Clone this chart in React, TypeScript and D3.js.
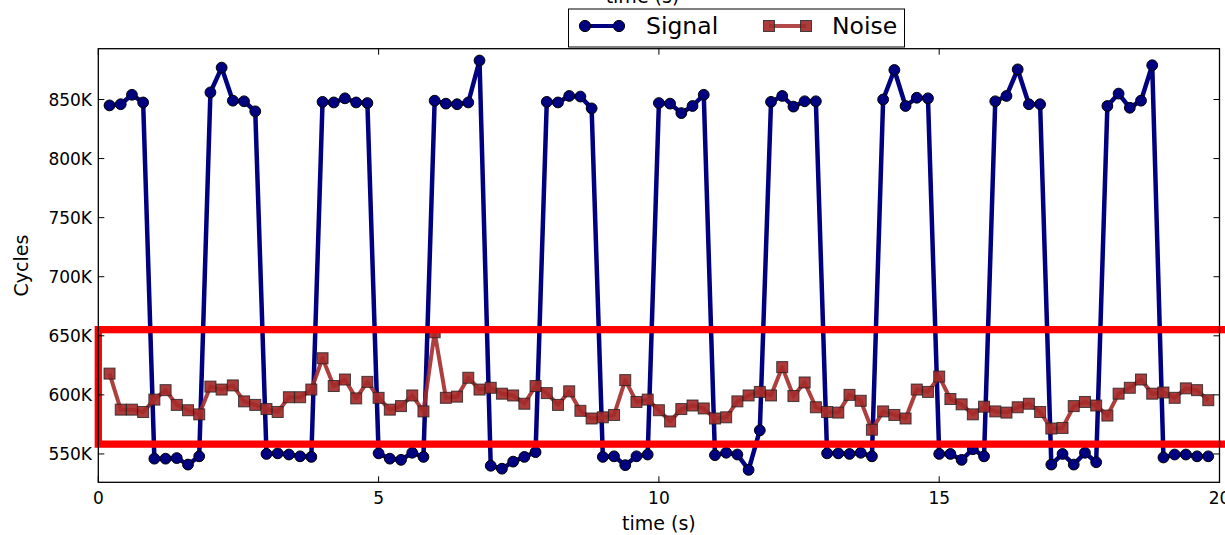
import React from "react";
import * as d3 from "d3";

// sample times: every 0.2 s from 0.2 to 19.8
const sampleIndex = d3.range(1, 100);
const times = sampleIndex.map((i) => +(i * 0.2).toFixed(1));

// Signal (K cycles)
const signal = [
  845, 846, 854, 847.5,
  546, 546, 546.5, 541, 548,
  856, 877, 849, 848.5, 840,
  550, 550.5, 549.5, 548, 547.5,
  848, 847.5, 851, 847.5, 847,
  550.5, 546, 545, 551, 547.5,
  849, 846.5, 846, 847.5, 883,
  540, 537.5, 543.5, 547.5, 551.5,
  848, 847.5, 853, 852.5, 842.5,
  547.5, 548, 540.5, 548, 549.5,
  847, 846.5, 838.5, 844.5, 854,
  549, 551, 549.5, 536.5, 570,
  848, 853, 844, 848.5, 848.5,
  550.5, 550.5, 550, 551, 548,
  850, 875, 844.5, 851.5, 851,
  550, 550, 545, 554, 548,
  848.5, 853, 875.5, 846, 846,
  541, 550, 541, 551, 543,
  844.5, 855, 843, 849, 879,
  547, 549.5, 549.5, 548, 548,
];

// Noise (K cycles)
const noise = [
  618, 587.5, 587.5, 585.5,
  596, 604, 591.5, 587, 583.5,
  607, 604.5, 608, 594.5, 591.5,
  588, 585.5, 598, 598, 604.5,
  631, 607.5, 613, 597, 611,
  597.5, 587.5, 590.5, 599.5, 586,
  653, 597.5, 598.5, 614.5, 604.5,
  606, 601, 599.5, 592.5, 607.5,
  601.5, 591.5, 603, 586.5, 580,
  581, 583, 612.5, 594, 596,
  587, 577.5, 588, 591, 588.5,
  580, 581, 594.5, 599.5, 602.5,
  599.5, 623.5, 599, 610.5, 589.5,
  585.5, 585, 600, 595, 570.5,
  586, 583, 580, 604.5, 602.5,
  615.5, 596.5, 592, 583.5, 590,
  586, 585, 589.5, 592.5, 585.5,
  571.5, 572, 590.5, 594, 591,
  582.5, 601, 606, 613, 601,
  602, 597.5, 605.5, 604, 595.5,
];

const xTicks = [0, 5, 10, 15, 20];
const yTicks = [550, 600, 650, 700, 750, 800, 850];
const seriesNames = ["Signal", "Noise"];
// highlighted band (K cycles)
const bandLow = 558.3;
const bandHigh = 655.2;
const bandEndTime = 22;

const W = 1225;
const H = 535;
const FONT = "DejaVu Sans, sans-serif";

export default function App() {
  const x = d3.scaleLinear().domain([0, 20]).range([98.3, 1219.5]);
  const y = d3.scaleLinear().domain([526, 893]).range([482.3, 48.7]);
  const left = x(0), right = x(20), top = y(893), bottom = y(526);

  const line = d3
    .line<number>()
    .x((_, i) => x(times[i]))
    .y((d) => y(d));

  const navy = "#000080";
  const brown = "#a52a2a";
  const tickLen = 6;

  return (
    <svg
      width={W}
      height={H}
      style={{ position: "absolute", left: 0, top: 0, background: "#fff" }}
      fontFamily={FONT}
    >
      <rect x={0} y={0} width={W} height={H} fill="#fff" />
      {/* Signal */}
      <path d={line(signal) || ""} fill="none" stroke={navy} strokeWidth={4.5} strokeLinejoin="round" />
      {signal.map((v, i) => (
        <circle key={"s" + i} cx={x(times[i])} cy={y(v)} r={5.4} fill={navy} stroke="#000" strokeWidth={1} />
      ))}
      {/* Noise */}
      <path d={line(noise) || ""} fill="none" stroke={brown} strokeOpacity={0.9} strokeWidth={4} strokeLinejoin="round" />
      {noise.map((v, i) => (
        <rect
          key={"n" + i}
          x={x(times[i]) - 5.5}
          y={y(v) - 5.5}
          width={11}
          height={11}
          fill={brown}
          fillOpacity={0.92}
          stroke="#222"
          strokeOpacity={0.8}
          strokeWidth={1}
        />
      ))}
      {/* red band */}
      <rect
        x={x(0)}
        y={y(bandHigh)}
        width={x(bandEndTime) - x(0)}
        height={y(bandLow) - y(bandHigh)}
        fill="none"
        stroke="#ff0000"
        strokeWidth={7.3}
      />
      {/* axes frame */}
      <rect x={left} y={top} width={right - left} height={bottom - top} fill="none" stroke="#000" strokeWidth={1.3} />
      {/* x ticks */}
      {xTicks.map((t) => (
        <g key={"xt" + t}>
          <line x1={x(t)} x2={x(t)} y1={bottom} y2={bottom - tickLen} stroke="#000" strokeWidth={1} />
          <line x1={x(t)} x2={x(t)} y1={top} y2={top + tickLen} stroke="#000" strokeWidth={1} />
          <text x={x(t)} y={504} fontSize={17} textAnchor="middle">{t}</text>
        </g>
      ))}
      {/* y ticks */}
      {yTicks.map((v) => (
        <g key={"yt" + v}>
          <line x1={left} x2={left + tickLen} y1={y(v)} y2={y(v)} stroke="#000" strokeWidth={1} />
          <line x1={right} x2={right - tickLen} y1={y(v)} y2={y(v)} stroke="#000" strokeWidth={1} />
          <text x={92} y={y(v)} dy="0.36em" fontSize={17} textAnchor="end">{v + "K"}</text>
        </g>
      ))}
      {/* axis labels */}
      <text x={(left + right) / 2} y={530} fontSize={19} textAnchor="middle">time (s)</text>
      <text x={642.5} y={3} fontSize={19} textAnchor="middle">time (s)</text>
      <text transform={`translate(28,${(top + bottom) / 2}) rotate(-90)`} fontSize={19} textAnchor="middle">Cycles</text>
      {/* legend */}
      <g>
        <rect x={568.5} y={9} width={336} height={38} fill="#fff" stroke="#000" strokeWidth={1} />
        <line x1={585} x2={619} y1={26} y2={26} stroke={navy} strokeWidth={4} />
        <circle cx={585} cy={26} r={5.6} fill={navy} stroke="#000" strokeWidth={1} />
        <circle cx={619} cy={26} r={5.6} fill={navy} stroke="#000" strokeWidth={1} />
        <text x={646} y={34} fontSize={23.5}>{seriesNames[0]}</text>
        <line x1={769} x2={806} y1={26} y2={26} stroke={brown} strokeOpacity={0.85} strokeWidth={4} />
        <rect x={763.5} y={20.5} width={11} height={11} fill={brown} fillOpacity={0.92} stroke="#222" strokeOpacity={0.8} />
        <rect x={800.5} y={20.5} width={11} height={11} fill={brown} fillOpacity={0.92} stroke="#222" strokeOpacity={0.8} />
        <text x={832} y={34} fontSize={23.5}>{seriesNames[1]}</text>
      </g>
    </svg>
  );
}
